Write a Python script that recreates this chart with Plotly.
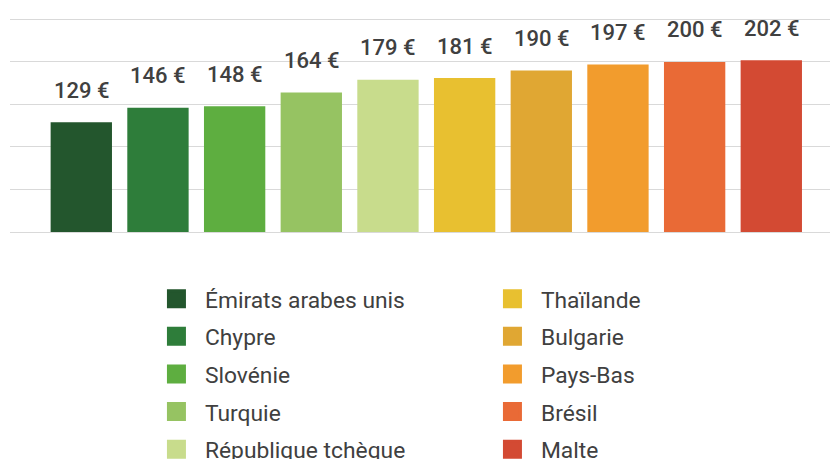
import plotly.graph_objects as go

countries = ["Émirats arabes unis", "Chypre", "Slovénie", "Turquie", "République tchèque",
             "Thaïlande", "Bulgarie", "Pays-Bas", "Brésil", "Malte"]
values = [129, 146, 148, 164, 179, 181, 190, 197, 200, 202]
labels = [f"{v} €" for v in values]
colors = ["#23562d", "#2e7d3a", "#5eae40", "#96c362", "#c8dc8c",
          "#e8c030", "#e0a733", "#f29c2d", "#e96a36", "#d34a33"]

FONT = "Roboto"
TXT = "#404040"

fig = go.Figure()
for i, (c, v, col) in enumerate(zip(countries, values, colors)):
    fig.add_trace(go.Bar(x=[c], y=[v], marker=dict(color=col, line=dict(width=0)),
                         showlegend=False, hoverinfo="skip"))
for i, (c, col) in enumerate(zip(countries, colors)):
    fig.add_trace(go.Scatter(x=[None], y=[None], mode="markers", name=c,
                             marker=dict(symbol="square", size=16, color=col,
                                         line=dict(color=col, width=3)),
                             legendgroup=f"g{i}",
                             legend="legend" if i < 5 else "legend2"))

annotations = []
for c, v, t in zip(countries, values, labels):
    annotations.append(dict(x=c, y=v, text=t, showarrow=False, yshift=32,
                            font=dict(family=FONT, size=22, color=TXT, weight=500)))

legend_common = dict(orientation="v", yanchor="top", xanchor="left",
                     font=dict(family=FONT, size=22.8, color=TXT),
                     bgcolor="rgba(0,0,0,0)", tracegroupgap=5,
                     traceorder="grouped", itemwidth=47)

fig.update_layout(
    width=838, height=459,
    margin=dict(l=2, r=8, t=8, b=235, autoexpand=False),
    paper_bgcolor="white", plot_bgcolor="white",
    barmode="overlay", bargap=0.2,
    xaxis=dict(categoryorder="array", categoryarray=countries, range=[-0.93, 9.87],
               showticklabels=False, showgrid=False, zeroline=False, ticks=""),
    yaxis=dict(range=[0, 254], tickvals=[0, 50, 100, 150, 200, 250],
               showticklabels=False, showgrid=True,
               gridcolor="#d9d9d9", gridwidth=1, zeroline=True, zerolinecolor="#d9d9d9",
               zerolinewidth=1, ticks=""),
    legend=dict(x=0.1666, y=-0.21, **legend_common),
    legend2=dict(x=0.5724, y=-0.21, **legend_common),
    annotations=annotations,
    showlegend=True,
)

fig.write_html("out.html")
